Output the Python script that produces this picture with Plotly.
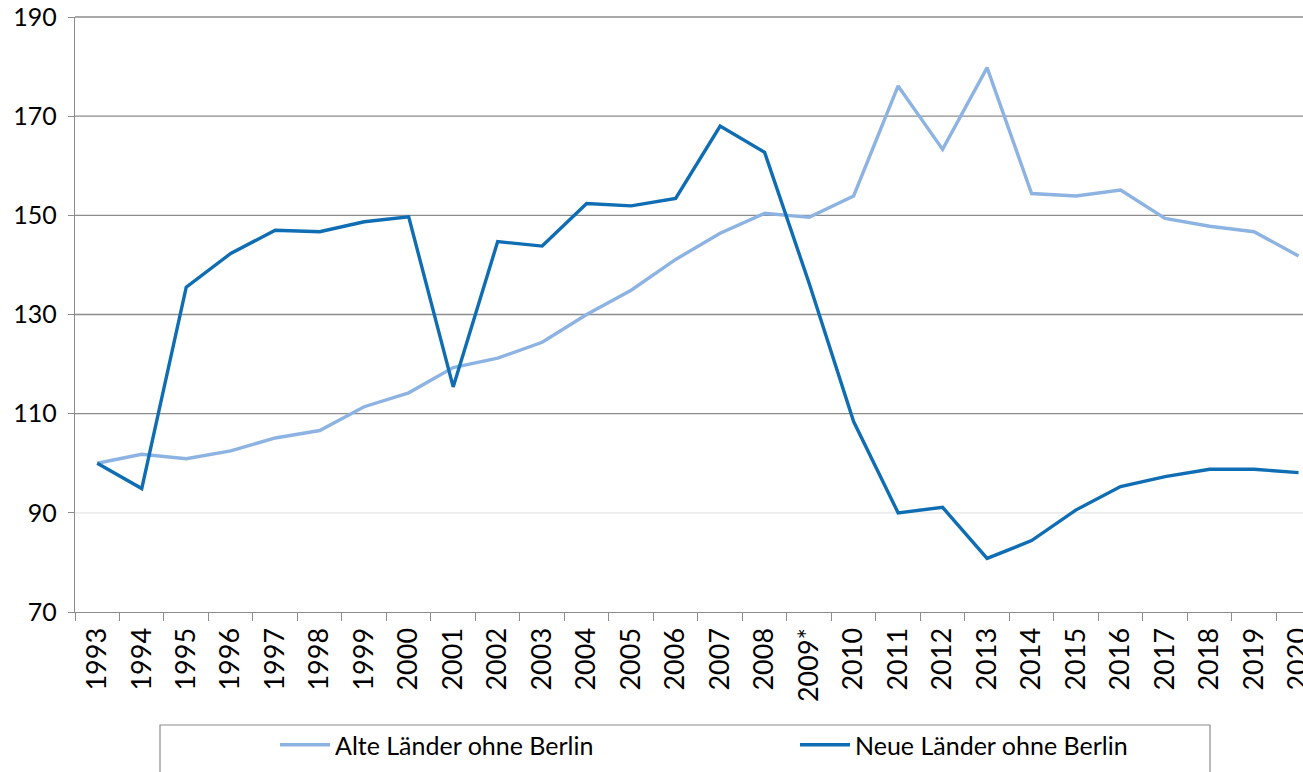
import plotly.graph_objects as go

years = ["1993", "1994", "1995", "1996", "1997", "1998", "1999", "2000", "2001", "2002",
         "2003", "2004", "2005", "2006", "2007", "2008", "2009*", "2010", "2011", "2012",
         "2013", "2014", "2015", "2016", "2017", "2018", "2019", "2020"]

alte = [100.0, 101.8, 100.9, 102.5, 105.1, 106.6, 111.4, 114.2, 119.3, 121.2,
        124.4, 130.0, 134.9, 141.1, 146.4, 150.4, 149.6, 153.9, 176.1, 163.3,
        179.8, 154.4, 153.9, 155.1, 149.4, 147.8, 146.7, 141.8]

neue = [100.0, 94.9, 135.5, 142.3, 147.0, 146.7, 148.7, 149.7, 115.4, 144.7,
        143.8, 152.4, 151.9, 153.4, 168.0, 162.7, 136.3, 108.4, 90.0, 91.1,
        80.8, 84.4, 90.6, 95.3, 97.3, 98.8, 98.8, 98.1]

y_ticks = [70, 90, 110, 130, 150, 170, 190]
series_names = ["Alte Länder ohne Berlin", "Neue Länder ohne Berlin"]

FONT = "Lato"
OFF = 0  # page body margin removed via post_script
L, T, PW, PH = 75, 17, 1228, 595  # on-screen plot area
YMIN, YMAX = y_ticks[0], y_ticks[-1]

fig = go.Figure()
fig.add_trace(go.Scatter(x=years, y=alte, mode="lines", name=series_names[0],
                         line=dict(color="#8DB3E2", width=3.4), legend="legend"))
fig.add_trace(go.Scatter(x=years, y=neue, mode="lines", name=series_names[1],
                         line=dict(color="#0F6DB3", width=3.4), legend="legend2"))

shapes = []
for v in y_ticks[1:]:
    col = "#E6E6E6" if v == 90 else "#8C8C8C"
    py = (v - YMIN) / (YMAX - YMIN)
    shapes.append(dict(type="line", xref="paper", yref="paper", x0=0, x1=1, y0=py, y1=py,
                       line=dict(color=col, width=1.3), layer="below"))
# legend frame
shapes.append(dict(type="rect", xref="paper", yref="paper",
                   x0=(160 - L) / PW, x1=(1210 - L) / PW,
                   y0=-(800 - 612) / PH, y1=-(725 - 612) / PH,
                   line=dict(color="#8C8C8C", width=1.2), fillcolor="rgba(0,0,0,0)"))

leg_common = dict(orientation="h", xanchor="left", yanchor="middle",
                  y=-(745 - 612) / PH,
                  font=dict(family=FONT, size=25, color="black"),
                  bgcolor="rgba(0,0,0,0)", borderwidth=0, itemwidth=50)

fig.update_layout(
    width=1303, height=772,
    margin=dict(l=L - OFF, r=1303 - (L + PW - OFF), t=T - OFF, b=772 - (T + PH - OFF),
                autoexpand=False),
    paper_bgcolor="white", plot_bgcolor="white",
    font=dict(family=FONT, color="black", size=24),
    shapes=shapes,
    showlegend=True,
    legend=dict(x=(275 - L) / PW, **leg_common),
    legend2=dict(x=(795 - L) / PW, **leg_common),
)

fig.update_xaxes(type="category", range=[-0.5, 27.1], automargin=False,
                 showgrid=False, showline=True, linecolor="#8C8C8C", linewidth=1.3,
                 ticks="outside", tickson="boundaries", ticklen=8, tickcolor="#8C8C8C",
                 tickangle=-90, ticklabeloverflow="allow", ticklabelstandoff=4,
                 tickfont=dict(family=FONT, size=27, color="black"))
fig.update_yaxes(range=[YMIN, YMAX], tickvals=y_ticks, showgrid=False, zeroline=False,
                 automargin=False, ticklabeloverflow="allow",
                 showline=True, linecolor="#8C8C8C", linewidth=1.3,
                 ticks="outside", ticklen=6, tickcolor="#8C8C8C",
                 ticklabelstandoff=6,
                 tickfont=dict(family=FONT, size=25, color="black"))

fig.write_html("out.html", config={"displayModeBar": False},
               post_script="document.body.style.margin='0';")
